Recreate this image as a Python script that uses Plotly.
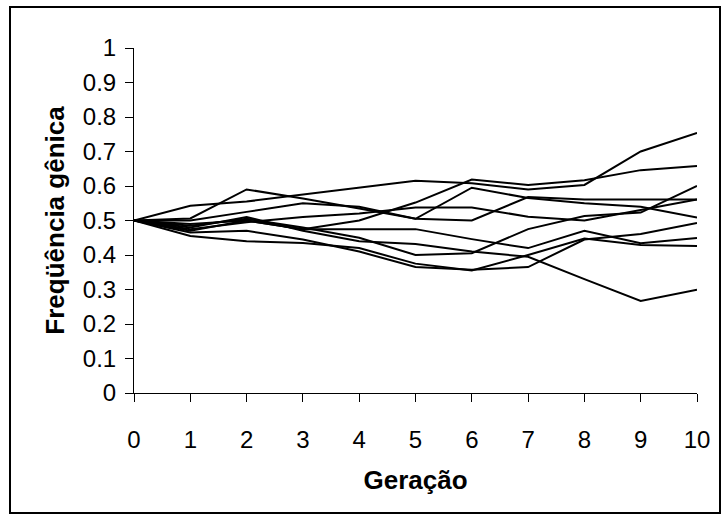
import plotly.graph_objects as go

generations = [0, 1, 2, 3, 4, 5, 6, 7, 8, 9, 10]

pop_a = [0.5, 0.543, 0.555, 0.575, 0.596, 0.615, 0.608, 0.590, 0.603, 0.700, 0.754]
pop_b = [0.5, 0.506, 0.590, 0.564, 0.535, 0.505, 0.595, 0.565, 0.550, 0.540, 0.509]
pop_c = [0.5, 0.490, 0.500, 0.475, 0.500, 0.552, 0.619, 0.603, 0.617, 0.646, 0.658]
pop_d = [0.5, 0.475, 0.495, 0.510, 0.520, 0.538, 0.538, 0.511, 0.500, 0.530, 0.561]
pop_e = [0.5, 0.500, 0.525, 0.550, 0.540, 0.505, 0.500, 0.568, 0.561, 0.561, 0.561]
pop_f = [0.5, 0.470, 0.500, 0.475, 0.475, 0.475, 0.446, 0.420, 0.470, 0.434, 0.449]
pop_g = [0.5, 0.485, 0.505, 0.480, 0.450, 0.400, 0.405, 0.475, 0.513, 0.523, 0.600]
pop_h = [0.5, 0.480, 0.510, 0.470, 0.440, 0.432, 0.410, 0.395, 0.330, 0.267, 0.299]
pop_i = [0.5, 0.465, 0.470, 0.445, 0.410, 0.365, 0.357, 0.365, 0.445, 0.461, 0.493]
pop_j = [0.5, 0.455, 0.440, 0.435, 0.420, 0.375, 0.355, 0.400, 0.448, 0.429, 0.426]

series = [pop_a, pop_b, pop_c, pop_d, pop_e, pop_f, pop_g, pop_h, pop_i, pop_j]

x_ticks = list(range(0, 11))
y_ticks = [0, 0.1, 0.2, 0.3, 0.4, 0.5, 0.6, 0.7, 0.8, 0.9, 1]
y_tick_text = ["0", "0.1", "0.2", "0.3", "0.4", "0.5", "0.6", "0.7", "0.8", "0.9", "1"]

FONT = "Liberation Sans, Arial, sans-serif"

fig = go.Figure()
for s in series:
    fig.add_trace(go.Scatter(x=generations, y=s, mode="lines",
                             line=dict(color="black", width=2),
                             showlegend=False, hoverinfo="skip"))

axis_common = dict(showgrid=False, zeroline=False, showline=True,
                   linecolor="black", linewidth=1, ticks="outside",
                   ticklen=8, tickcolor="black", tickwidth=1,
                   tickfont=dict(family=FONT, size=24, color="black"))

fig.update_layout(
    width=724, height=517,
    margin=dict(l=134, r=27, t=48, b=124),
    paper_bgcolor="white", plot_bgcolor="white",
    xaxis=dict(range=[0, 10], tickvals=x_ticks, ticklabelstandoff=17,
               title=dict(text="<b>Geração</b>", standoff=19,
                          font=dict(family=FONT, size=26, color="black")),
               **axis_common),
    yaxis=dict(range=[0, 1], tickvals=y_ticks, ticktext=y_tick_text,
               ticklabelstandoff=4,
               title=dict(text="<b>Freqüência gênica</b>", standoff=10,
                          font=dict(family=FONT, size=26, color="black")),
               **axis_common),
    xaxis2=dict(overlaying="x", matches="x", range=[0, 10], tickvals=x_ticks,
                ticks="inside", ticklen=8, tickcolor="black", showticklabels=False,
                showline=False, showgrid=False, zeroline=False),
    yaxis2=dict(overlaying="y", matches="y", range=[0, 1], tickvals=y_ticks,
                ticks="inside", ticklen=8, tickcolor="black", showticklabels=False,
                showline=False, showgrid=False, zeroline=False),
    shapes=[dict(type="rect", xref="paper", yref="paper",
                 x0=-124 / 563, x1=1 + 23 / 563,
                 y0=-120 / 345, y1=1 + 41 / 345,
                 line=dict(color="black", width=2), fillcolor="rgba(0,0,0,0)",
                 layer="below")],
)

fig.write_html("out.html", config={"displayModeBar": False},
               post_script="document.body.style.margin='0';"
                           "document.documentElement.style.overflow='hidden';")
